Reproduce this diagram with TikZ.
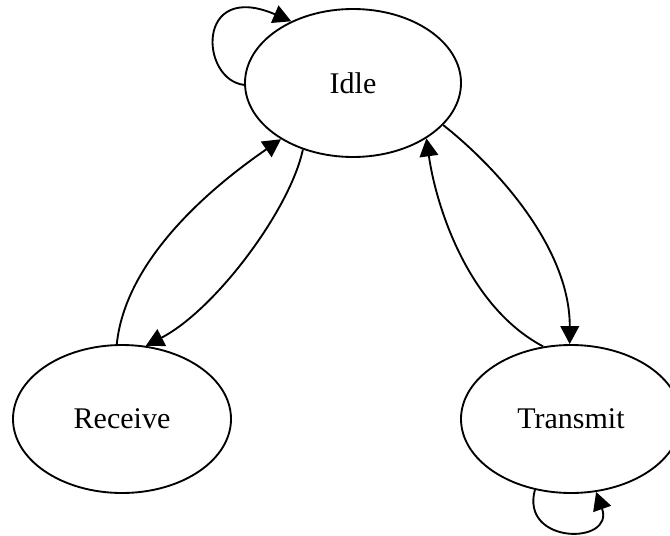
\documentclass[tikz,border=0pt]{standalone}
\usepackage{fontspec}
\setmainfont{Liberation Serif}
\usetikzlibrary{shapes.geometric,arrows.meta}
\begin{document}
\begin{tikzpicture}[x=0.75pt,y=-0.75pt,
  state/.style={draw,ellipse,line width=1.4pt,inner sep=0pt,minimum height=111pt,font=\fontsize{22.5pt}{27pt}\selectfont},
  edge/.style={line width=1.4pt,-{Triangle[length=13.5pt,width=14pt]}}]
\useasboundingbox (0,0) rectangle (670,535);
\node[state,minimum width=162pt] (Idle) at (353,83) {Idle};
\node[state,minimum width=163.5pt] (Receive) at (122,419) {Receive};
\node[state,minimum width=165pt] (Transmit) at (571,419) {Transmit};
\draw[edge] (Idle.181) .. controls (200,80) and (195,-20) .. (Idle.135);
\draw[edge] (Transmit.243) .. controls (520,545) and (615,545) .. (Transmit.289);
\draw[edge] (Receive.94) .. controls (125,265) and (200,195) .. (Idle.218);
\draw[edge] (Idle.233) .. controls (290,210) and (215,310) .. (Receive.72);
\draw[edge] (Idle.335) .. controls (500,170) and (570,250) .. (Transmit.91);
\draw[edge] (Transmit.111) .. controls (465,305) and (435,200) .. (Idle.323);
\end{tikzpicture}
\end{document}
